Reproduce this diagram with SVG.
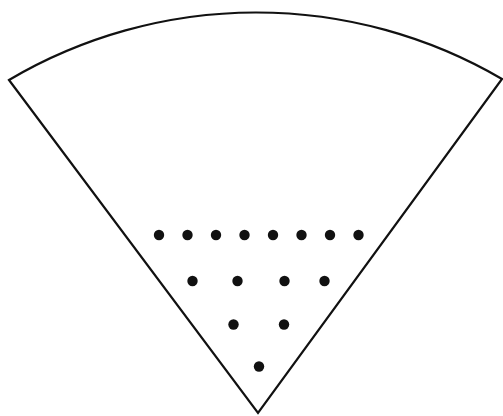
<svg xmlns="http://www.w3.org/2000/svg" width="503" height="416" viewBox="0 0 503 416">
<style>
.outline{fill:#fff;stroke:#111;stroke-width:2.2;stroke-linejoin:miter}
.dot{fill:#111}
</style>
<rect width="503" height="416" fill="#fff"/>
<g id="sector">
<path class="outline" d="M9,80 A487,487 0 0 1 502,79 L258,413 Z"/>
</g>
<g id="dots">
<circle class="dot" cx="159" cy="235" r="5.2"/>
<circle class="dot" cx="187.5" cy="235" r="5.2"/>
<circle class="dot" cx="216" cy="235" r="5.2"/>
<circle class="dot" cx="244.5" cy="235" r="5.2"/>
<circle class="dot" cx="273" cy="235" r="5.2"/>
<circle class="dot" cx="301.5" cy="235" r="5.2"/>
<circle class="dot" cx="330" cy="235" r="5.2"/>
<circle class="dot" cx="358.5" cy="235" r="5.2"/>
<circle class="dot" cx="192.5" cy="281" r="5.2"/>
<circle class="dot" cx="237.5" cy="281" r="5.2"/>
<circle class="dot" cx="284.5" cy="281" r="5.2"/>
<circle class="dot" cx="324.5" cy="281" r="5.2"/>
<circle class="dot" cx="233.5" cy="324.5" r="5.2"/>
<circle class="dot" cx="284" cy="324.5" r="5.2"/>
<circle class="dot" cx="259" cy="366.5" r="5.2"/>
</g>
</svg>
